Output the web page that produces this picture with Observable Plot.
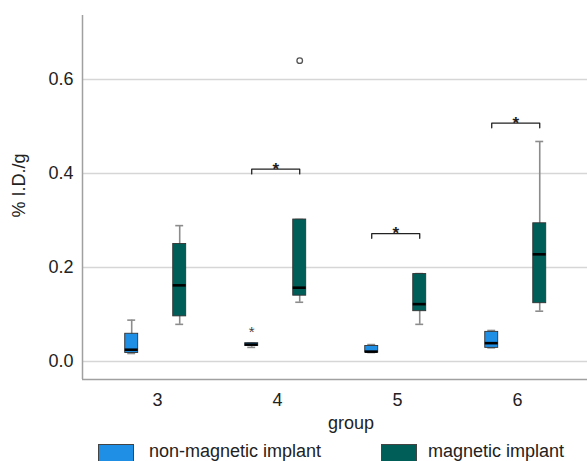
<!DOCTYPE html>
<html>
<head>
<meta charset="utf-8">
<script src="https://cdn.jsdelivr.net/npm/d3@7"></script>
<script src="https://cdn.jsdelivr.net/npm/@observablehq/plot@0.6"></script>
<style>
  html, body { margin: 0; padding: 0; background: #fff; }
  body { width: 587px; height: 461px; overflow: hidden; font-family: "Liberation Sans", Arial, sans-serif; }
  #legend { position: relative; height: 21px; }
  .sw { position: absolute; top: 4px; width: 36px; height: 24px; border: 1px solid #444; box-sizing: border-box; }
  .lb { position: absolute; top: 1px; font-size: 18px; color: #222; line-height: 20px; white-space: nowrap; }
</style>
</head>
<body>
<div id="chart"></div>
<div id="legend"></div>
<script>
// ---- data ----
const groups = [3, 4, 5, 6];
const seriesNames = ["non-magnetic implant", "magnetic implant"];
// each: [whiskerLow, q1, median, q3, whiskerHigh] per group
const nonMagnetic = [
  [0.017, 0.018, 0.025, 0.059, 0.088],
  [0.030, 0.033, 0.036, 0.039, 0.039],
  [0.019, 0.019, 0.021, 0.033, 0.036],
  [0.029, 0.029, 0.039, 0.063, 0.066]
];
const magnetic = [
  [0.079, 0.096, 0.162, 0.250, 0.289],
  [0.126, 0.140, 0.157, 0.302, 0.302],
  [0.079, 0.107, 0.122, 0.186, 0.187],
  [0.107, 0.124, 0.228, 0.294, 0.468]
];
const outlierCircles = [{group: 4, series: 1, value: 0.640}];
const outlierStars = [{group: 4, series: 0, value: 0.068}];
const sigGroups = [4, 5, 6];
const sigLevels = [0.409, 0.272, 0.507];
const yTicks = [0, 0.2, 0.4, 0.6];
const colors = ["#1f8fe6", "#005e59"];

// ---- layout helpers ----
const offsets = [-0.215, 0.185];
const halfW = 0.054;
const capW = 0.033;

const rows = [];
[nonMagnetic, magnetic].forEach((arr, s) => {
  arr.forEach((v, i) => {
    rows.push({group: groups[i], s, pos: groups[i] + offsets[s],
      lo: v[0], q1: v[1], med: v[2], q3: v[3], hi: v[4]});
  });
});

const brackets = [];
sigGroups.forEach((g, i) => {
  const y = sigLevels[i];
  const a = g + offsets[0], b = g + offsets[1];
  [[a, y - 0.01], [a, y], [b, y], [b, y - 0.01]].forEach(([x, yy]) =>
    brackets.push({g, x, y: yy}));
});
const stars = sigGroups.map((g, i) => ({x: g + (offsets[0] + offsets[1]) / 2, y: sigLevels[i]}));

const chart = Plot.plot({
  width: 587,
  height: 440,
  marginLeft: 82,
  marginRight: 0,
  marginTop: 15,
  marginBottom: 61,
  style: {fontFamily: '"Liberation Sans", Arial, sans-serif', fontSize: "18px", color: "#222", background: "#fff"},
  x: {domain: [2.375, 6.583], ticks: groups, tickFormat: d3.format("d")},
  y: {domain: [-0.0383, 0.736], ticks: yTicks, tickFormat: d3.format(".1f")},
  marks: [
    Plot.gridY(yTicks, {stroke: "#d6d6d6", strokeOpacity: 1, strokeWidth: 1.5}),
    Plot.axisY(yTicks, {tickSize: 0, tickPadding: 9, fontSize: 18, label: null, tickFormat: d3.format(".1f")}),
    Plot.axisX(groups, {tickSize: 0, tickPadding: 14, fontSize: 18, label: null, tickFormat: d3.format("d")}),
    Plot.text(["group"], {frameAnchor: "bottom", textAnchor: "middle", dx: 16, dy: 49, fontSize: 18, fill: "#222"}),
    Plot.ruleX([2.375], {stroke: "#a0a0a0", strokeWidth: 1.5}),
    Plot.ruleY([-0.0383], {stroke: "#a0a0a0", strokeWidth: 1.5}),
    Plot.text(["% I.D./g"], {frameAnchor: "left", textAnchor: "middle", dx: -63, dy: -12, rotate: -90, fontSize: 18, fill: "#222"}),
    // whiskers
    Plot.ruleX(rows, {x: "pos", y1: "lo", y2: "hi", stroke: "#8c8c8c", strokeWidth: 1.6}),
    Plot.ruleY(rows, {y: "hi", x1: d => d.pos - capW, x2: d => d.pos + capW, stroke: "#8c8c8c", strokeWidth: 1.6}),
    Plot.ruleY(rows, {y: "lo", x1: d => d.pos - capW, x2: d => d.pos + capW, stroke: "#8c8c8c", strokeWidth: 1.6}),
    // boxes
    Plot.rect(rows, {x1: d => d.pos - halfW, x2: d => d.pos + halfW, y1: "q1", y2: "q3",
      fill: d => colors[d.s], stroke: "#333", strokeWidth: 0.9}),
    Plot.ruleY(rows, {y: "med", x1: d => d.pos - halfW, x2: d => d.pos + halfW, stroke: "#000", strokeWidth: 2.6}),
    // outliers
    Plot.dot(outlierCircles, {x: d => d.group + offsets[d.series], y: "value", r: 2.8, stroke: "#555", strokeWidth: 1.3, fill: "#fff"}),
    Plot.text(outlierStars, {x: d => d.group + offsets[d.series], y: "value", text: () => "*", fontSize: 15, dy: 3, fill: "#444"}),
    // significance brackets
    Plot.line(brackets, {x: "x", y: "y", z: "g", stroke: "#222", strokeWidth: 1.3}),
    Plot.text(stars, {x: "x", y: "y", text: () => "*", fontSize: 17, fontWeight: "bold", dy: 0, fill: "#222"})
  ]
});
document.getElementById("chart").appendChild(chart);

// legend (below the SVG)
const legend = document.getElementById("legend");
const legendPos = [[98, 149], [381, 428]];
seriesNames.forEach((name, i) => {
  const sw = document.createElement("div");
  sw.className = "sw";
  sw.style.left = legendPos[i][0] + "px";
  sw.style.background = colors[i];
  legend.appendChild(sw);
  const lb = document.createElement("div");
  lb.className = "lb";
  lb.style.left = legendPos[i][1] + "px";
  lb.textContent = name;
  legend.appendChild(lb);
});
</script>
</body>
</html>
